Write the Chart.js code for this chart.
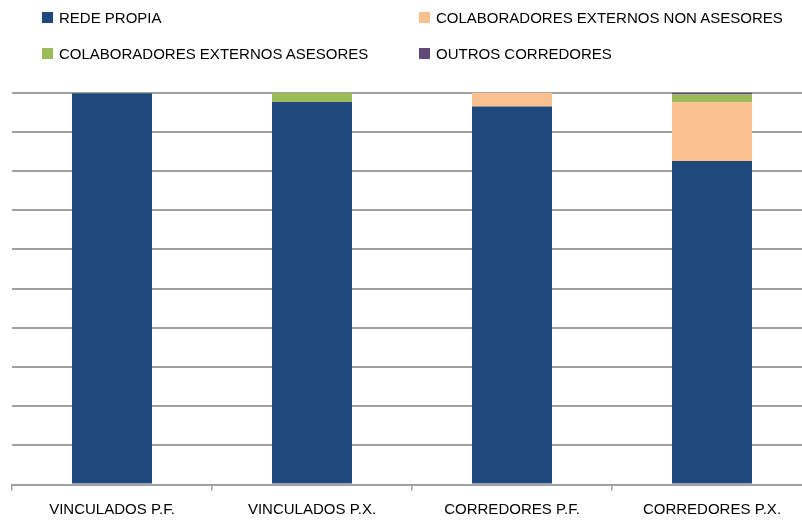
<!DOCTYPE html>
<html>
<head>
<meta charset="utf-8">
<script src="https://cdn.jsdelivr.net/npm/chart.js@4/dist/chart.umd.min.js"></script>
<style>
  html, body { margin: 0; padding: 0; background: #fff; overflow: hidden; }
  #wrap { position: relative; width: 812px; height: 521px; }
  #legend { position: absolute; left: 0; top: 0; width: 802px; height: 80px;
            font-family: "Liberation Sans", Arial, sans-serif; font-size: 15px; color: #000; }
  .item { position: absolute; display: flex; align-items: center; white-space: nowrap; }
  .box { width: 11px; height: 11px; margin-right: 6px; }
</style>
</head>
<body>
<div id="wrap">
  <canvas id="chart" width="812" height="521"></canvas>
  <div id="legend"></div>
</div>
<script>
const categories = ["VINCULADOS P.F.", "VINCULADOS P.X.", "CORREDORES P.F.", "CORREDORES P.X."];
const seriesNames = ["REDE PROPIA", "COLABORADORES EXTERNOS NON ASESORES", "COLABORADORES EXTERNOS ASESORES", "OUTROS CORREDORES"];
const redePropia = [99.8, 97.6, 96.4, 82.5];
const colabNonAsesores = [0.1, 0, 3.6, 15.0];
const colabAsesores = [0.1, 2.4, 0, 2.0];
const outrosCorredores = [0, 0, 0, 0.5];
const colors = ["#1F497D", "#FAC090", "#9BBB59", "#604A7B"];

const values = [redePropia, colabNonAsesores, colabAsesores, outrosCorredores];

// leyenda en dos columnas, como en el original
const legendPos = [[42, 18], [419, 18], [42, 54], [419, 54]];
const legend = document.getElementById("legend");
seriesNames.forEach((name, i) => {
    const el = document.createElement("div");
    el.className = "item";
    el.style.left = legendPos[i][0] + "px";
    el.style.top = (legendPos[i][1] - 9) + "px";
    el.innerHTML = `<span class="box" style="background:${colors[i]}"></span><span>${name}</span>`;
    legend.appendChild(el);
});

const ctx = document.getElementById("chart").getContext("2d");
new Chart(ctx, {
    type: "bar",
    data: {
        labels: categories,
        datasets: seriesNames.map((name, i) => ({
            label: name,
            data: values[i],
            backgroundColor: colors[i],
            borderWidth: 0,
            categoryPercentage: 1,
            barPercentage: 0.4
        }))
    },
    options: {
        responsive: false,
        animation: false,
        layout: { padding: { left: 12, right: 0, top: 92.5, bottom: 0 } },
        plugins: { legend: { display: false }, tooltip: { enabled: false } },
        scales: {
            x: {
                stacked: true,
                grid: { display: true, offset: true, drawOnChartArea: false, tickLength: 6, color: "#a0a0a0", lineWidth: 1.5 },
                border: { display: true, color: "#a0a0a0", width: 2 },
                ticks: { color: "#000", padding: 10, font: { family: "Liberation Sans", size: 15 }, maxRotation: 0 },
                afterFit: scale => { scale.height = 36.5; }
            },
            y: {
                stacked: true,
                min: 0,
                max: 100,
                ticks: { display: false, stepSize: 10 },
                grid: { color: "#a0a0a0", lineWidth: 2, drawTicks: false },
                border: { display: false },
                afterFit: scale => { scale.width = 0; }
            }
        }
    }
});
</script>
</body>
</html>
